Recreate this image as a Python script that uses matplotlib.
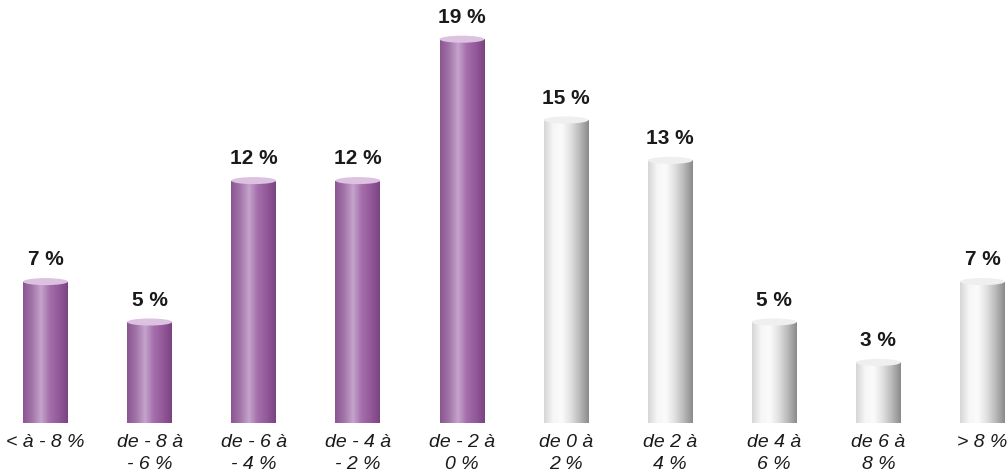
import numpy as np
import matplotlib.pyplot as plt
from matplotlib.colors import LinearSegmentedColormap
from matplotlib.patches import Ellipse

plt.rcParams['font.family'] = ['Liberation Sans Narrow', 'Liberation Sans', 'DejaVu Sans']

# data
categories = ["< à - 8 %", "de - 8 à\n- 6 %", "de - 6 à\n- 4 %", "de - 4 à\n- 2 %",
              "de - 2 à\n0 %", "de 0 à\n2 %", "de 2 à\n4 %", "de 4 à\n6 %",
              "de 6 à\n8 %", "> 8 %"]
values = [7, 5, 12, 12, 19, 15, 13, 5, 3, 7]
is_negative = [True, True, True, True, True, False, False, False, False, False]

purple = LinearSegmentedColormap.from_list(
    "purple", ["#8a5691", "#a274a9", "#c6a3cc", "#a46dab", "#93599a", "#7a4482"])
grey = LinearSegmentedColormap.from_list(
    "grey", ["#d6d6d6", "#f6f6f6", "#fbfbfb", "#e0e0e0", "#b9b9b9", "#8a8a8a"])

fig = plt.figure(figsize=(10.08, 4.71), dpi=100)
ax = fig.add_axes([0, 48 / 471, 1, 423 / 471])

x = np.arange(len(values))
width = 0.43
bars = ax.bar(x, values, width=width, color="none", edgecolor="none")

grad = np.linspace(0, 1, 200).reshape(1, -1)
for bar, v, neg in zip(bars, values, is_negative):
    cmap = purple if neg else grey
    x0 = bar.get_x()
    im = ax.imshow(grad, cmap=cmap, aspect="auto",
                   extent=(x0, x0 + bar.get_width(), 0, v), zorder=2)
    im.set_clip_path(bar)
    cap = Ellipse((x0 + bar.get_width() / 2, v), bar.get_width(), 0.35,
                  facecolor="#dcc2e0" if neg else "#efefef", edgecolor="none", zorder=3)
    ax.add_patch(cap)
    ax.text(x0 + bar.get_width() / 2, v + 0.6, f"{v} %", ha="center", va="bottom",
            fontsize=15, fontweight="bold", color="#1a1a1a")

ax.set_xlim(-0.437, 9.245)
ax.set_ylim(0, 423 / 20.2)
ax.set_xticks(x)
ax.set_xticklabels(categories, fontsize=14, fontstyle="italic", color="#1a1a1a",
                   linespacing=1.35)
ax.tick_params(axis="x", length=0, pad=8)
ax.set_yticks([])
for s in ax.spines.values():
    s.set_visible(False)

plt.savefig("out.png", dpi=100)
